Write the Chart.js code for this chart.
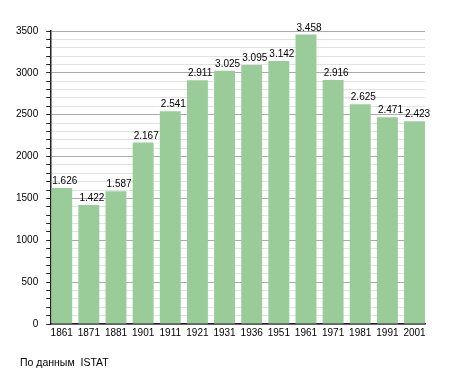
<!DOCTYPE html>
<html>
<head>
<meta charset="utf-8">
<script src="https://cdn.jsdelivr.net/npm/chart.js@4/dist/chart.umd.min.js"></script>
<style>
  html, body { margin: 0; padding: 0; background: #fff; }
  #wrap { position: relative; width: 455px; height: 373px; }
  #note { position: absolute; left: 20px; top: 356px; font: 10.5px "Liberation Sans", Arial, sans-serif; color: #000; white-space: pre; }
</style>
</head>
<body>
<div id="wrap">
  <canvas id="c"></canvas>
  <div id="note">По данным  ISTAT</div>
</div>
<script>
const years = ["1861","1871","1881","1901","1911","1921","1931","1936","1951","1961","1971","1981","1991","2001"];
const population = [1626,1422,1587,2167,2541,2911,3025,3095,3142,3458,2916,2625,2471,2423];
const yMax = 3500;
const yMinorStep = 100;
const yMajorStep = 500;

const FONT = '"Liberation Sans", Arial, sans-serif';

const valueLabels = {
  id: 'valueLabels',
  afterDatasetsDraw(chart) {
    const ctx = chart.ctx;
    const meta = chart.getDatasetMeta(0);
    ctx.save();
    ctx.font = '10px ' + FONT;
    ctx.fillStyle = '#000';
    ctx.textAlign = 'left';
    ctx.textBaseline = 'alphabetic';
    meta.data.forEach((bar, i) => {
      const txt = population[i].toLocaleString('de-DE');
      const left = bar.x - bar.width / 2;
      ctx.fillText(txt, left + 1, bar.y - 4);
    });
    ctx.restore();
  }
};

new Chart(document.getElementById('c'), {
  type: 'bar',
  data: {
    datasets: [{
      data: population.map((v, i) => ({ x: i, y: v })),
      backgroundColor: '#99cc99',
      borderWidth: 0,
      categoryPercentage: 1,
      barPercentage: 0.771
    }]
  },
  options: {
    responsive: true,
    maintainAspectRatio: false,
    animation: false,
    layout: { padding: { left: 8, right: 30, top: 31, bottom: 31 } },
    plugins: { legend: { display: false }, tooltip: { enabled: false } },
    scales: {
      x: {
        type: 'linear',
        offset: false,
        min: -0.386,
        max: years.length - 1 + 0.386,
        afterBuildTicks: (scale) => { scale.ticks = years.map((_, i) => ({ value: i })); },
        grid: { display: false, drawTicks: false },
        border: { display: true, color: '#222', width: 1.5 },
        ticks: {
          autoSkip: false,
          maxRotation: 0,
          padding: 3,
          color: '#000',
          font: { family: FONT, size: 10 },
          callback: (v) => years[v] !== undefined ? years[v] : ''
        }
      },
      y: {
        min: 0,
        max: yMax,
        grid: {
          color: (c) => (c.tick && c.tick.value % yMajorStep === 0) ? '#aaaaaa' : '#e2e2e2',
          tickColor: '#222',
          tickLength: 5,
          lineWidth: 1
        },
        border: { display: true, color: '#222', width: 1.5 },
        ticks: {
          stepSize: yMinorStep,
          autoSkip: false,
          padding: 8,
          color: '#000',
          font: { family: FONT, size: 10 },
          callback: (v) => v % yMajorStep === 0 ? String(v) : ''
        }
      }
    }
  },
  plugins: [valueLabels]
});
</script>
</body>
</html>
